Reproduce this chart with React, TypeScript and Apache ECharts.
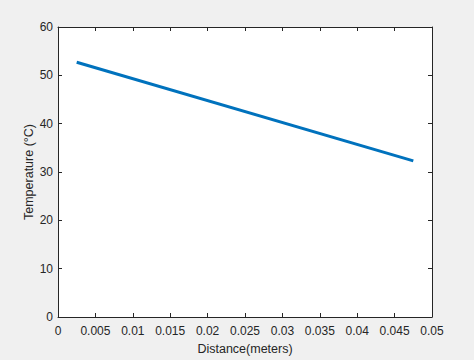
import React, { useEffect, useRef } from "react";
import * as echarts from "echarts";

const distance = [0.0025, 0.0475];
const temperature = [52.7, 32.3];
const xTicks = [0, 0.005, 0.01, 0.015, 0.02, 0.025, 0.03, 0.035, 0.04, 0.045, 0.05];
const yTicks = [0, 10, 20, 30, 40, 50, 60];

export default function App() {
  const ref = useRef<HTMLDivElement>(null);
  useEffect(() => {
    if (!ref.current) return;
    const chart = echarts.init(ref.current, null, { renderer: "svg" });
    const axisColor = "#262626";
    const font = "Liberation Sans, Arial, sans-serif";
    const xBase = {
      type: "value" as const,
      min: 0,
      max: 0.05,
      interval: 0.005,
      axisLine: { show: true, onZero: false, lineStyle: { color: axisColor, width: 1 } },
      axisTick: { show: true, inside: true, length: 4, lineStyle: { color: axisColor } },
      splitLine: { show: false },
    };
    const yBase = {
      type: "value" as const,
      min: 0,
      max: 60,
      interval: 10,
      axisLine: { show: true, onZero: false, lineStyle: { color: axisColor, width: 1 } },
      axisTick: { show: true, inside: true, length: 4, lineStyle: { color: axisColor } },
      splitLine: { show: false },
    };
    chart.setOption({
      animation: false,
      backgroundColor: "#f0f0f0",
      grid: {
        left: 58,
        top: 27,
        right: 42,
        bottom: 39,
        show: true,
        backgroundColor: "#ffffff",
        borderWidth: 0,
      },
      xAxis: [
        {
          ...xBase,
          position: "bottom",
          name: "Distance(meters)",
          nameLocation: "middle",
          nameGap: 25,
          nameMoveOverlap: false,
          nameTextStyle: { color: axisColor, fontSize: 12.5, fontFamily: font, verticalAlign: "top" },
          axisLabel: {
            color: axisColor,
            fontSize: 12,
            fontFamily: font,
            margin: 8,
            formatter: (v: number) => {
              const t = xTicks.find((x) => Math.abs(x - v) < 1e-9);
              return t === undefined ? "" : String(t);
            },
          },
        },
        { ...xBase, position: "top", axisLabel: { show: false } },
      ],
      yAxis: [
        {
          ...yBase,
          position: "left",
          name: "Temperature (°C)",
          nameLocation: "middle",
          nameGap: 23,
          nameMoveOverlap: false,
          nameTextStyle: { color: axisColor, fontSize: 12.5, fontFamily: font },
          axisLabel: {
            color: axisColor,
            fontSize: 12,
            fontFamily: font,
            margin: 5,
            formatter: (v: number) => (yTicks.includes(v) ? String(v) : ""),
          },
        },
        { ...yBase, position: "right", axisLabel: { show: false } },
      ],
      series: [
        {
          type: "line",
          data: distance.map((d, i) => [d, temperature[i]]),
          showSymbol: false,
          lineStyle: { color: "#0072BD", width: 3 },
          itemStyle: { color: "#0072BD" },
        },
      ],
    });
    return () => chart.dispose();
  }, []);
  return <div ref={ref} style={{ width: 474, height: 360, position: "fixed", left: 0, top: 0 }} />;
}
